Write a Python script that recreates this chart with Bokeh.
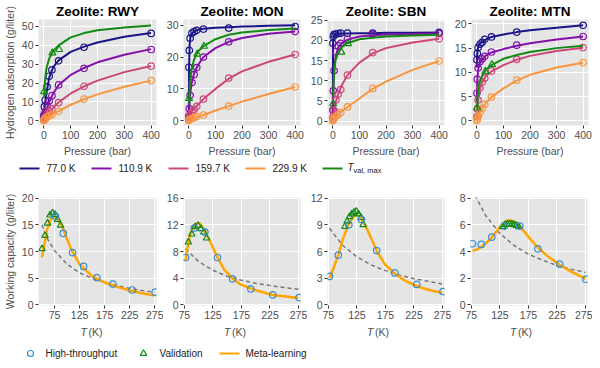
import math
from bokeh.plotting import figure
from bokeh.layouts import column, row
from bokeh.models import Range1d, FixedTicker
from bokeh.core.properties import value
from bokeh.embed import file_html
from bokeh.resources import INLINE

FONT = "Liberation Sans"
NAN = float("nan")

ZEOLITES = ["RWY", "MON", "SBN", "MTN"]
TEMP_LABELS = ["77.0 K", "110.9 K", "159.7 K", "229.9 K"]
TEMP_COLORS = ["#1a1488", "#8410aa", "#cc4778", "#f89540"]
GREEN = "#118a11"
HT_BLUE = "#3a8dcf"
ML_ORANGE = "#ffa500"
DASH_GREY = "#777777"

# ---------------- top row: hydrogen adsorption isotherms ----------------
P_HT = [0.5, 2, 5, 12, 20, 30, 55, 150, 400]
P_FIT = [0, 1, 3, 6, 10, 20, 35, 55, 100, 150, 200, 300, 400]
P_VAL = [1, 32, 57]

ht_RWY = [[3.0, 7.5, 11, 18, 23.6, 27, 31.8, 39, 46.3],
          [0.8, 2.5, 4.5, 7.8, 10.5, 13.3, 19, 27.8, 37.8],
          [0.3, 1, 2, 3.8, 5, 6.3, 9.6, 18.3, 29],
          [0.1, 0.5, 1, 2, 2.8, 3.3, 5, 11.5, 21.3]]
fit_RWY = [[0, 4, 7.5, 11, 15, 23, 28.5, 32, 36.5, 39.3, 41.5, 44.5, 46.5],
           [0, 0.8, 2.3, 4, 6, 10, 14.5, 19, 24.3, 28, 31, 35, 38],
           [0, 0.3, 0.8, 1.6, 2.5, 4.5, 7, 9.8, 14.5, 18.3, 21.3, 25.8, 29],
           [0, 0.1, 0.4, 0.8, 1.3, 2.4, 3.6, 5.1, 8.5, 11.5, 14, 18, 21.3]]
val_RWY = [15.5, 36, 37.8]
valfit_RWY = [NAN, 12, 19, 24, 28, 33, 37, 40, 44.2, 46.5, 48, 49.5, 50.5]

ht_MON = [[16.8, 22.1, 25.9, 27.5, 28, 28.4, 28.8, 29.1, 29.6],
          [1.5, 3.8, 8, 12, 14.5, 16.7, 20, 24.8, 28],
          [0.4, 1, 1.8, 2.8, 3.6, 4.5, 6.8, 13.4, 20.8],
          [0.05, 0.2, 0.4, 0.7, 1, 1.3, 1.8, 4.6, 10.6]]
fit_MON = [[2, 17, 24, 26.3, 27.3, 28.1, 28.6, 28.9, 29.2, 29.4, 29.6, 29.8, 30],
           [0.5, 2.5, 6, 9, 11.5, 15, 17.5, 20, 22.8, 24.8, 26, 27.3, 28],
           [0, 0.5, 1.3, 2.2, 3, 3.7, 5.1, 6.8, 10, 13.2, 15.5, 18.5, 20.8],
           [0, 0.1, 0.2, 0.4, 0.6, 0.9, 1.3, 1.8, 3.2, 4.6, 6, 8.4, 10.6]]
val_MON = [7, 20.9, 23.4]
valfit_MON = [NAN, 5, 10, 13.5, 16, 19.3, 21.8, 23.4, 25.6, 27, 27.7, 28.5, 29]

ht_SBN = [[19.3, 21, 21.5, 21.6, 21.7, 21.8, 21.8, 21.8, 22],
          [2.7, 7.5, 12.5, 17.2, 18.7, 19.3, 20.3, 21.5, 21.7],
          [0.5, 1.2, 2.6, 5.2, 6.7, 7.8, 11.4, 17, 20.4],
          [0.1, 0.3, 0.6, 1.2, 1.6, 2.1, 3.5, 8.1, 14.9]]
fit_SBN = [[3, 19.5, 21, 21.4, 21.5, 21.6, 21.7, 21.7, 21.8, 21.8, 21.9, 21.9, 22],
           [0.5, 4, 9.5, 13.5, 15.8, 18.2, 19.4, 20.2, 21, 21.3, 21.5, 21.6, 21.7],
           [0, 0.6, 1.7, 3, 4.5, 6.7, 9, 11.4, 14.5, 16.8, 18.1, 19.5, 20.4],
           [0, 0.1, 0.3, 0.6, 0.9, 1.6, 2.5, 3.5, 5.6, 8, 9.8, 12.7, 14.9]]
val_SBN = [4.3, 17.1, 19.2]
valfit_SBN = [NAN, 6, 10, 13, 15, 17, 18.4, 19.3, 20.3, 20.7, 21, 21.2, 21.4]

ht_MTN = [[12.6, 13.9, 15.1, 15.8, 16.2, 16.8, 17.3, 18.3, 19.7],
          [5.7, 8.6, 10.9, 12.2, 12.8, 13.3, 14.2, 15.6, 17.4],
          [0.9, 2.5, 4.3, 6.8, 8, 8.8, 10.3, 12.7, 15.1],
          [0.1, 0.4, 0.9, 1.8, 2.6, 3.4, 4.9, 8.4, 12]]
fit_MTN = [[11, 13.5, 14.6, 15.3, 15.8, 16.3, 16.8, 17.3, 17.8, 18.3, 18.7, 19.2, 19.7],
           [4, 7.5, 9.5, 10.8, 11.7, 12.7, 13.5, 14.1, 14.8, 15.5, 16, 16.8, 17.4],
           [0, 1.2, 3, 4.8, 6.3, 8, 9.3, 10.2, 11.5, 12.6, 13.4, 14.4, 15.1],
           [0, 0.2, 0.6, 1.1, 1.6, 2.6, 3.8, 4.9, 6.7, 8.3, 9.5, 11, 12]]
val_MTN = [2.7, 10.2, 11.6]
valfit_MTN = [NAN, 2.5, 4.5, 6.5, 7.8, 9.3, 10.6, 11.5, 12.8, 13.6, 14.2, 15, 15.5]

TOP_XTICKS = [0, 100, 200, 300, 400]
TOP_YTICKS = [[0, 10, 20, 30, 40, 50], [0, 10, 20, 30], [0, 5, 10, 15, 20, 25], [0, 5, 10, 15, 20]]
TOP_YLIM = [(-2.5, 53.7), (-1.5, 31.8), (-1.1, 25.2), (-0.95, 20.9)]

# ---------------- bottom row: working capacity vs temperature ----------------
T_HT = [77.0, 92.4, 110.9, 133.1, 159.7, 191.6, 229.9, 275.9]

wc_RWY = [16.6, 13.4, 9.8, 7.2, 5.1, 3.9, 2.8, 2.4]
tval_RWY = [50, 56, 61, 66, 71, 76, 81, 87]
wcval_RWY = [10.5, 13, 15.3, 16.8, 17.2, 16.9, 16.0, 14.9]
tml_RWY = [50, 55, 60, 65, 70, 75, 80, 90, 100, 110, 125, 150, 175, 200, 225, 250, 275]
ml_RWY = [8.9, 11.5, 14, 15.6, 16.3, 16.5, 16.2, 14.8, 12.3, 10.1, 7.6, 5.4, 4.2, 3.4, 2.7, 2.2, 1.75]
tdash_RWY = [50, 60, 75, 100, 125, 150, 175, 200, 225, 250, 275]
dash_RWY = [15, 12.5, 10.2, 7.6, 6.0, 5.0, 4.2, 3.6, 3.1, 2.7, 2.35]

wc_MON = [7.1, 11.5, 10.9, 7.1, 3.9, 2.4, 1.5, 1.1]
tval_MON = [82, 88, 94, 99, 104, 109, 114]
wcval_MON = [9.4, 10.6, 11.7, 11.9, 11.4, 10.9, 10.0]
tml_MON = [77, 80, 85, 90, 95, 100, 105, 110, 120, 133, 145, 160, 175, 200, 230, 275]
ml_MON = [6.7, 8.3, 10.4, 11.6, 12.1, 12.3, 11.9, 11.2, 9.5, 7.1, 5.3, 3.9, 3.0, 2.2, 1.5, 1.05]
tdash_MON = [77, 100, 125, 150, 175, 200, 225, 250, 275]
dash_MON = [8.4, 6.5, 5.2, 4.3, 3.7, 3.25, 2.9, 2.6, 2.35]

wc_SBN = [3.2, 5.6, 9.0, 9.6, 6.1, 3.6, 2.3, 1.5]
tval_SBN = [104, 108, 112, 116, 120, 124, 128, 132, 136]
wcval_SBN = [8.8, 9.4, 9.9, 10.2, 10.4, 10.5, 10.2, 9.8, 9.0]
tml_SBN = [77, 85, 92.4, 100, 110, 120, 125, 130, 140, 150, 160, 175, 191.6, 210, 230, 250, 275]
ml_SBN = [3.0, 4.3, 5.6, 7.3, 9.0, 10.0, 10.1, 9.9, 8.9, 7.5, 6.0, 4.5, 3.5, 2.7, 2.1, 1.7, 1.35]
tdash_SBN = [77, 100, 125, 150, 175, 200, 225, 250, 275]
dash_SBN = [8.6, 6.7, 5.4, 4.5, 3.85, 3.35, 2.95, 2.65, 2.35]

wc_MTN = [4.58, 4.53, 5.07, 5.9, 5.9, 4.2, 3.05, 1.93]
tval_MTN = [130, 134, 138, 142, 146, 150, 154, 158]
wcval_MTN = [5.85, 6.0, 6.05, 6.05, 6.05, 6.0, 5.95, 5.85]
tml_MTN = [77, 85, 92.4, 100, 110, 120, 130, 140, 150, 160, 175, 191.6, 210, 230, 250, 275]
ml_MTN = [4.05, 4.15, 4.35, 4.6, 5.0, 5.55, 6.1, 6.35, 6.25, 5.9, 5.1, 4.3, 3.6, 3.0, 2.5, 1.95]
tdash_MTN = [77, 85, 100, 125, 150, 175, 200, 225, 250, 275]
dash_MTN = [8.7, 7.9, 6.7, 5.35, 4.45, 3.8, 3.35, 2.95, 2.68, 2.43]

BOT_XTICKS = [75, 125, 175, 225, 275]
BOT_XLIM = [(43, 278.5), (73.5, 278.5), (73.5, 278.5), (73.5, 278.5)]
BOT_YTICKS = [[0, 5, 10, 15, 20], [0, 4, 8, 12, 16], [0, 3, 6, 9, 12], [0, 2, 4, 6, 8]]
BOT_YLIM = [(-0.1, 20.1), (-0.08, 16.08), (-0.06, 12.06), (-0.04, 8.04)]

TOP = {"RWY": (ht_RWY, fit_RWY, val_RWY, valfit_RWY), "MON": (ht_MON, fit_MON, val_MON, valfit_MON),
       "SBN": (ht_SBN, fit_SBN, val_SBN, valfit_SBN), "MTN": (ht_MTN, fit_MTN, val_MTN, valfit_MTN)}
BOT = {"RWY": (wc_RWY, tval_RWY, wcval_RWY, tml_RWY, ml_RWY, tdash_RWY, dash_RWY),
       "MON": (wc_MON, tval_MON, wcval_MON, tml_MON, ml_MON, tdash_MON, dash_MON),
       "SBN": (wc_SBN, tval_SBN, wcval_SBN, tml_SBN, ml_SBN, tdash_SBN, dash_SBN),
       "MTN": (wc_MTN, tval_MTN, wcval_MTN, tml_MTN, ml_MTN, tdash_MTN, dash_MTN)}

# ---------------- layout ----------------
TOTAL_W = 584
FW = [118, 117, 117, 117]
LB = [32, 19, 19, 19]
RB = [7, 7, 7, 5]
FH_TOP = 106
FH_BOT = 108


def style(p, xt, yt):
    p.xaxis.ticker = FixedTicker(ticks=xt)
    p.yaxis.ticker = FixedTicker(ticks=yt)
    p.xgrid.ticker = FixedTicker(ticks=xt)
    p.ygrid.ticker = FixedTicker(ticks=yt)
    for ax in (p.xaxis[0], p.yaxis[0]):
        ax.axis_line_color = None
        ax.major_tick_in = 0
        ax.major_tick_out = 3
        ax.major_tick_line_color = "#333333"
        ax.minor_tick_line_color = None
        ax.major_label_text_font = FONT
        ax.major_label_text_font_size = "10.5px"
        ax.major_label_text_color = "#4d4d4d"
        ax.major_label_standoff = 2
        ax.axis_label_text_font = FONT
        ax.axis_label_text_font_size = "10.5px"
        ax.axis_label_text_color = "#4d4d4d"
        ax.axis_label_text_font_style = "normal"
        ax.axis_label_standoff = 3
    p.grid.grid_line_color = "white"
    p.grid.grid_line_width = 1
    p.background_fill_color = "#e5e5e5"
    p.border_fill_color = "white"
    p.outline_line_color = None


top_figs = []
for i, z in enumerate(ZEOLITES):
    ht, fit, val, valfit = TOP[z]
    p = figure(frame_width=FW[i], frame_height=FH_TOP, x_range=Range1d(-20, 420),
               y_range=Range1d(*TOP_YLIM[i]), output_backend="svg", toolbar_location=None,
               min_border_left=LB[i], min_border_right=RB[i], min_border_top=0, min_border_bottom=0,
               title="Zeolite: " + z)
    p.title.text_font = FONT
    p.title.text_font_size = "13.5px"
    p.title.text_font_style = "bold"
    p.title.text_color = "black"
    p.title.align = "center"
    p.title.standoff = 2
    style(p, TOP_XTICKS, TOP_YTICKS[i])
    p.xaxis.axis_label = "Pressure (bar)"
    if i == 0:
        p.yaxis.axis_label = "Hydrogen adsorption (g/liter)"
    for k in range(4):
        p.line(P_FIT, fit[k], line_color=TEMP_COLORS[k], line_width=2)
        p.scatter(P_HT, ht[k], marker="circle", size=6.5, fill_color=None,
                  line_color=TEMP_COLORS[k], line_width=1.2)
    p.line(P_FIT, valfit, line_color=GREEN, line_width=2)
    p.scatter(P_VAL, val, marker="triangle", size=7, fill_color=None, line_color=GREEN, line_width=1.2)
    top_figs.append(p)

bot_figs = []
for i, z in enumerate(ZEOLITES):
    wc, tval, wcval, tml, ml, tdash, dash = BOT[z]
    p = figure(frame_width=FW[i], frame_height=FH_BOT, x_range=Range1d(*BOT_XLIM[i]),
               y_range=Range1d(*BOT_YLIM[i]), output_backend="svg", toolbar_location=None,
               min_border_left=LB[i], min_border_right=RB[i], min_border_top=20, min_border_bottom=0)
    style(p, BOT_XTICKS, BOT_YTICKS[i])
    if i == 0:
        p.yaxis.axis_label = "Working capacity (g/liter)"
    p.line(tdash, dash, line_color=DASH_GREY, line_width=1.5, line_dash="4 3")
    p.line(tml, ml, line_color=ML_ORANGE, line_width=2.5)
    p.scatter(tval, wcval, marker="triangle", size=6.5, fill_color=None, line_color=GREEN, line_width=1.2)
    p.scatter(T_HT, wc, marker="circle", size=6.5, fill_color=None, line_color=HT_BLUE, line_width=1.2)
    bot_figs.append(p)


def strip(h):
    s = figure(width=TOTAL_W, height=h, x_range=Range1d(0, TOTAL_W), y_range=Range1d(0, h),
               output_backend="svg", toolbar_location=None, min_border=0,
               x_axis_type=None, y_axis_type=None)
    s.outline_line_color = None
    s.background_fill_color = "white"
    s.border_fill_color = "white"
    s.grid.visible = False
    return s


def txt(s, x, y, t, size="10px", style="normal", color="#222222", align="left"):
    s.text(x=[x], y=[y], text=[t], text_font=value(FONT), text_font_size=value(size),
           text_font_style=style, text_color=color, text_align=align, text_baseline="middle")


# legend 1 (temperatures)
S1H = 18
s1 = strip(S1H)
leg_x = [19, 91, 168, 245, 322]
for k in range(4):
    s1.segment(x0=[leg_x[k]], y0=[S1H / 2], x1=[leg_x[k] + 20], y1=[S1H / 2],
               line_color=TEMP_COLORS[k], line_width=2)
    txt(s1, leg_x[k] + 27, S1H / 2, TEMP_LABELS[k])
s1.segment(x0=[leg_x[4]], y0=[S1H / 2], x1=[leg_x[4] + 20], y1=[S1H / 2], line_color=GREEN, line_width=2)
txt(s1, leg_x[4] + 25, S1H / 2 + 1, "T", style="italic")
txt(s1, leg_x[4] + 31, S1H / 2 - 2, "val, max", size="7.5px")

# x-axis titles for bottom row + legend 2
S2H = 40
s2 = strip(S2H)
xpos = 0
for i in range(4):
    cx = xpos + LB[i] + FW[i] / 2
    txt(s2, cx - 11, S2H - 10, "T", size="10.5px", style="italic", color="#4d4d4d")
    txt(s2, cx - 3, S2H - 10, "(K)", size="10.5px", color="#4d4d4d")
    xpos += LB[i] + FW[i] + RB[i]
ly = 8
s2.scatter(x=[30], y=[ly], marker="circle", size=6, fill_color=None, line_color=HT_BLUE, line_width=1.2)
txt(s2, 45, ly, "High-throughput")
s2.scatter(x=[143], y=[ly], marker="triangle", size=6.5, fill_color=None, line_color=GREEN, line_width=1.2)
txt(s2, 159, ly, "Validation")
s2.segment(x0=[219], y0=[ly], x1=[239], y1=[ly], line_color=ML_ORANGE, line_width=2)
txt(s2, 245, ly, "Meta-learning")

layout = column(row(*top_figs, spacing=0), s1, row(*bot_figs, spacing=0), s2, spacing=0)

with open("out.html", "w") as f:
    f.write(file_html(layout, INLINE))
